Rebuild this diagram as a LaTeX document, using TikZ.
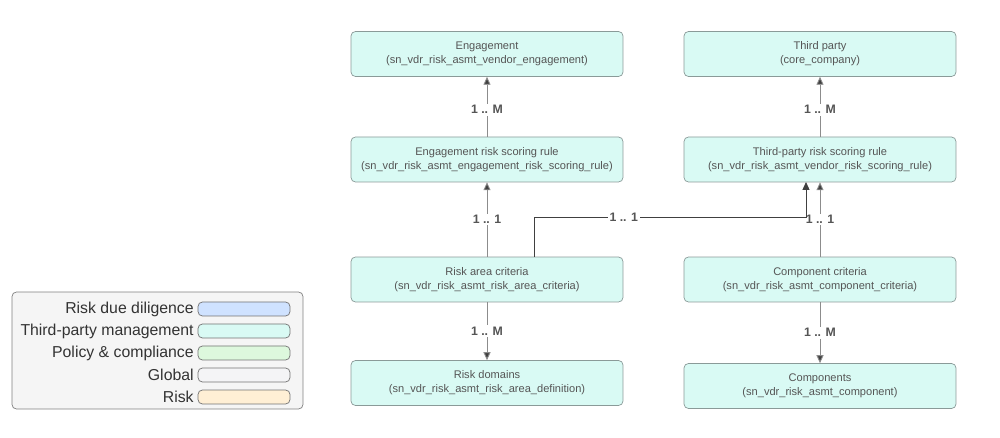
\documentclass[tikz,border=0pt]{standalone}
\usepackage{fontspec}
\setmainfont{Liberation Sans}
\usetikzlibrary{arrows.meta}
\definecolor{tpm}{HTML}{D9FAF4}
\definecolor{bord}{HTML}{8A9A98}
\definecolor{txt}{HTML}{555555}
\begin{document}
\begin{tikzpicture}[x=0.02cm,y=-0.02cm,
  ent/.style={draw=bord,fill=tpm,rounded corners=2.5pt,minimum width=5.44cm,minimum height=0.9cm,align=center,font=\fontsize{6.3}{8}\selectfont,text=txt,inner sep=1pt},
  lnk/.style={draw=black!45,line width=0.5pt,-{Triangle[length=4.5pt,width=4pt,fill=black!75]}},
  lab/.style={fill=white,font=\bfseries\fontsize{7}{8}\selectfont,text=txt,inner sep=1pt},
  sw/.style={draw=black!55,rounded corners=2.5pt,minimum width=1.84cm,minimum height=0.28cm,inner sep=0pt},
  lt/.style={anchor=east,font=\fontsize{9}{10}\selectfont,text=black!80,inner sep=0pt}]
\useasboundingbox (0,0) rectangle (1000,438);
\node[ent] (eng) at (487,54) {Engagement\\(sn\_vdr\_risk\_asmt\_vendor\_engagement)};
\node[ent] (tp) at (820,54) {Third party\\(core\_company)};
\node[ent] (ers) at (487,159.5) {Engagement risk scoring rule\\(sn\_vdr\_risk\_asmt\_engagement\_risk\_scoring\_rule)};
\node[ent] (tprs) at (820,159.5) {Third-party risk scoring rule\\(sn\_vdr\_risk\_asmt\_vendor\_risk\_scoring\_rule)};
\node[ent] (rac) at (487,279.5) {Risk area criteria\\(sn\_vdr\_risk\_asmt\_risk\_area\_criteria)};
\node[ent] (cc) at (820,279.5) {Component criteria\\(sn\_vdr\_risk\_asmt\_component\_criteria)};
\node[ent] (rd) at (487,383) {Risk domains\\(sn\_vdr\_risk\_asmt\_risk\_area\_definition)};
\node[ent] (cp) at (820,386) {Components\\(sn\_vdr\_risk\_asmt\_component)};
\draw[lnk] (ers) -- node[lab,pos=0.45]{1 .. M} (eng);
\draw[lnk] (tprs) -- node[lab,pos=0.45]{1 .. M} (tp);
\draw[lnk] (rac) -- node[lab,pos=0.5]{1 .. 1} (ers);
\draw[lnk] (cc) -- node[lab,pos=0.5]{1 .. 1} (tprs);
\draw[lnk] (rac) -- node[lab,pos=0.5]{1 .. M} (rd);
\draw[lnk] (cc) -- node[lab,pos=0.5]{1 .. M} (cp);
\coordinate (a) at (534,257);
\coordinate (b) at (806,182);
\draw[lnk,draw=black!75] (a) -- (534,217) -- node[lab,pos=0.33]{1 .. 1} (806,217) -- (b);
\node[draw=black!50,fill=black!4,rounded corners=2.5pt,minimum width=5.82cm,minimum height=2.34cm] (leg) at (157.5,350.5) {};
\foreach \y/\c/\t [count=\i] in {309/CFE2FF/Risk due diligence,331/D9FAF4/Third-party management,353/DDF8DD/Policy \& compliance,375/F4F4F6/Global,397/FFEFD5/Risk}{
  \definecolor{c\i}{HTML}{\c}
  \node[sw,fill=c\i] (s\i) at (244,\y) {};
  \node[lt] (t\i) at (194,\y) {\t};
}
\end{tikzpicture}
\end{document}
